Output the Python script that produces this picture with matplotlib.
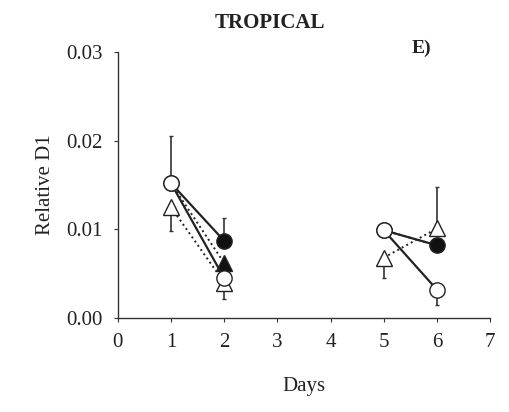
import numpy as np
import matplotlib
matplotlib.use("Agg")
import matplotlib.pyplot as plt

plt.rcParams['font.family'] = ['Liberation Serif', 'DejaVu Serif']

# two sampling periods, drawn as separate segments
days_a = [1, 2]
days_b = [5, 6]

filled_circle_a = [0.0152, 0.0087]
filled_circle_b = [0.0099, 0.0082]
open_circle_a = [0.0152, 0.0045]
open_circle_b = [0.0099, 0.0032]
filled_tri_a = [0.0152, 0.0062]
filled_tri_b = [0.0099, 0.0082]
open_tri_a = [0.0125, 0.0040]
open_tri_b = [0.0068, 0.0101]

# error bars (lower, upper) extents
filled_circle_err_a = [[0, 0], [0, 0.0026]]
open_circle_err_a = [[0, 0], [0.0053, 0]]
open_circle_err_b = [[0, 0.0017], [0, 0]]
open_tri_err_a = [[0.0027, 0.0018], [0, 0]]
open_tri_err_b = [[0.0023, 0], [0, 0.0047]]

fig = plt.figure(figsize=(5.1, 4.12), dpi=100)
ax = fig.add_axes([0.231, 0.228, 0.730, 0.646])

def draw(x, y, err, ls, marker, face, z, show=None):
    if err is not None:
        ax.errorbar(x, y, yerr=err, fmt='none', ecolor='#333333', elinewidth=1.2,
                    capsize=1.5, zorder=z - 1)
    ax.plot(x, y, ls=ls, color='#222222', lw=1.6 if ls == '-' else 1.4,
            marker=marker, markersize=11, markerfacecolor=face,
            markeredgecolor='#222222', markeredgewidth=1.0, zorder=z,
            markevery=show)

for x, fc, oc, ft, ot, fce, oce, ote, ft_show in [
        (days_a, filled_circle_a, open_circle_a, filled_tri_a, open_tri_a,
         filled_circle_err_a, open_circle_err_a, open_tri_err_a, [1]),
        (days_b, filled_circle_b, open_circle_b, filled_tri_b, open_tri_b,
         None, open_circle_err_b, open_tri_err_b, [])]:
    # filled triangles are hidden behind the circles except where they stand apart
    draw(x, ft, None, ':', '^', '#111111', 3, ft_show)
    draw(x, ot, ote, ':', '^', 'white', 4)
    draw(x, fc, fce, '-', 'o', '#111111', 5)
    draw(x, oc, oce, '-', 'o', 'white', 6)

ax.set_xlim(0, 7)
ax.set_ylim(0, 0.03)
ax.set_xticks(range(8))
ax.set_yticks([0.0, 0.01, 0.02, 0.03])
ax.set_yticklabels(['0.00', '0.01', '0.02', '0.03'])
for s in ['top', 'right']:
    ax.spines[s].set_visible(False)
for s in ['left', 'bottom']:
    ax.spines[s].set_color('#333333')
    ax.spines[s].set_linewidth(1.0)
ax.tick_params(axis='both', labelsize=15, length=3, color='#333333',
               labelcolor='#222222', pad=8)
ax.set_ylabel('Relative D1', fontsize=15, color='#222222', labelpad=8)
ax.set_xlabel('Days', fontsize=15, color='#222222', labelpad=18)
fig.text(0.53, 0.945, 'TROPICAL', fontsize=15, fontweight='bold',
         ha='center', va='center', color='#222222')
ax.text(5.7, 0.0304, 'E)', fontsize=14, fontweight='bold', ha='center',
        va='center', color='#222222')

fig.savefig('out.png', dpi=100)
